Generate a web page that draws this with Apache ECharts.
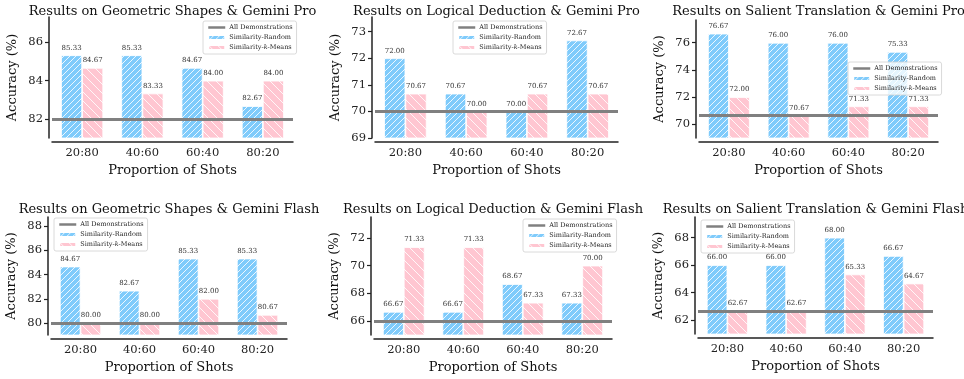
<!DOCTYPE html>
<html lang="en">
<head>
  <meta charset="UTF-8">
  <title>Similarity-based demonstration selection</title>
  <script src="https://cdn.jsdelivr.net/npm/echarts@6/dist/echarts.min.js"></script>
  <style>
    html, body { margin: 0; padding: 0; background: #fff; }
    #chart { width: 964px; height: 379px; }
  </style>
</head>
<body>
  <div id="chart"></div>
  <script>
    // data
    const shots = ['20:80', '40:60', '60:40', '80:20'];
    const titles = [
      'Results on Geometric Shapes & Gemini Pro',
      'Results on Logical Deduction & Gemini Pro',
      'Results on Salient Translation & Gemini Pro',
      'Results on Geometric Shapes & Gemini Flash',
      'Results on Logical Deduction & Gemini Flash',
      'Results on Salient Translation & Gemini Flash'
    ];
    const randomAcc = [
      [85.33, 85.33, 84.67, 82.67],
      [72.00, 70.67, 70.00, 72.67],
      [76.67, 76.00, 76.00, 75.33],
      [84.67, 82.67, 85.33, 85.33],
      [66.67, 66.67, 68.67, 67.33],
      [66.00, 66.00, 68.00, 66.67]
    ];
    const kmeansAcc = [
      [84.67, 83.33, 84.00, 84.00],
      [70.67, 70.00, 70.67, 70.67],
      [72.00, 70.67, 71.33, 71.33],
      [80.00, 80.00, 82.00, 80.67],
      [71.33, 71.33, 67.33, 70.00],
      [62.67, 62.67, 65.33, 64.67]
    ];
    const allDemos = [82.00, 70.00, 70.67, 80.00, 66.00, 62.67];
    const yMin = [81, 69, 69, 79, 65, 61];
    const yMax = [87.33, 73.55, 77.67, 88.77, 73.5, 69.5];
    const yTicks = [
      [82, 84, 86],
      [69, 70, 71, 72, 73],
      [70, 72, 74, 76],
      [80, 82, 84, 86, 88],
      [66, 68, 70, 72],
      [62, 64, 66, 68]
    ];

    // panel layout (plot areas in px)
    const grids = [
      { left: 52, top: 17, width: 241, height: 121 },
      { left: 375, top: 17, width: 243, height: 121 },
      { left: 699, top: 20, width: 239, height: 118 },
      { left: 51, top: 217, width: 236, height: 118 },
      { left: 374, top: 217, width: 238, height: 118 },
      { left: 698, top: 217, width: 235, height: 117 }
    ];
    const legendPos = [
      { left: 203, top: 21 },
      { left: 453, top: 21 },
      { left: 848, top: 62 },
      { left: 54, top: 218 },
      { left: 523, top: 219 },
      { left: 701, top: 220 }
    ];

    const SERIF = '"DejaVu Serif", serif';
    const BLUE = '#7fcbfb';
    const PINK = '#ffc6d1';

    function hatch(bg, step, forward) {
      const c = document.createElement('canvas');
      c.width = step; c.height = step;
      const g = c.getContext('2d');
      g.fillStyle = bg;
      g.fillRect(0, 0, step, step);
      g.strokeStyle = 'rgba(255,255,255,0.95)';
      g.lineWidth = 0.9;
      g.beginPath();
      if (forward) {
        g.moveTo(-1, step + 1); g.lineTo(step + 1, -1);
        g.moveTo(-1, 1); g.lineTo(1, -1);
        g.moveTo(step - 1, step + 1); g.lineTo(step + 1, step - 1);
      } else {
        g.moveTo(-1, -1); g.lineTo(step + 1, step + 1);
        g.moveTo(step - 1, -1); g.lineTo(step + 1, 1);
        g.moveTo(-1, step - 1); g.lineTo(1, step + 1);
      }
      g.stroke();
      return c;
    }
    const bluePattern = { image: hatch(BLUE, 6, true), repeat: 'repeat' };
    const pinkPattern = { image: hatch(PINK, 9, false), repeat: 'repeat' };

    const option = {
      animation: false,
      title: [], grid: [], xAxis: [], yAxis: [], legend: [], series: []
    };

    titles.forEach(function (t, i) {
      const gr = grids[i];
      option.title.push({
        text: t,
        left: gr.left + gr.width / 2,
        top: i < 3 ? 5 : 203,
        textAlign: 'center',
        padding: 0,
        textStyle: { fontFamily: SERIF, fontSize: 13, fontWeight: 'normal', color: '#111' }
      });
      option.grid.push(Object.assign({ containLabel: false }, gr));
      option.xAxis.push({
        type: 'category',
        gridIndex: i,
        data: shots,
        offset: 4,
        name: 'Proportion of Shots',
        nameLocation: 'middle',
        nameGap: 22,
        nameTextStyle: { fontFamily: SERIF, fontSize: 13, color: '#111' },
        axisLine: { lineStyle: { color: '#222', width: 1.5 } },
        axisTick: { show: false },
        axisLabel: { fontFamily: SERIF, fontSize: 11.5, color: '#222', margin: 5 },
        splitLine: { show: false }
      });
      option.yAxis.push({
        type: 'value',
        gridIndex: i,
        min: yMin[i],
        max: yMax[i],
        offset: 3,
        name: 'Accuracy (%)',
        nameLocation: 'middle',
        nameGap: 30,
        nameTextStyle: { fontFamily: SERIF, fontSize: 13, color: '#111' },
        axisLine: { show: true, lineStyle: { color: '#222', width: 1.5 } },
        axisTick: { show: true, length: 4, lineStyle: { color: '#222', width: 1.2 }, customValues: yTicks[i] },
        axisLabel: { fontFamily: SERIF, fontSize: 11.5, color: '#222', margin: 6, customValues: yTicks[i] },
        splitLine: { show: false }
      });
      option.legend.push({
        orient: 'vertical',
        left: legendPos[i].left,
        top: legendPos[i].top,
        data: [
          { name: 'All Demonstrations', itemStyle: { opacity: 0 }, lineStyle: { width: 2.5, color: '#808080' } },
          'Similarity-Random',
          'Similarity-k-Means'
        ],
        itemWidth: 17,
        itemHeight: 5,
        itemGap: 3,
        padding: [3, 4, 3, 4],
        backgroundColor: 'rgba(255,255,255,0.8)',
        borderColor: '#d0d0d0',
        borderWidth: 0.8,
        borderRadius: 2,
        selectedMode: false,
        formatter: function (name) {
          return name === 'Similarity-k-Means' ? 'Similarity-{i|k}-Means' : name;
        },
        textStyle: {
          fontFamily: SERIF, fontSize: 6.5, color: '#222', padding: [0, 0, 0, -1],
          rich: { i: { fontFamily: SERIF, fontSize: 6.5, fontStyle: 'italic', color: '#222' } }
        }
      });
      const labelCfg = {
        show: true,
        position: 'top',
        distance: 4,
        fontFamily: SERIF,
        fontSize: 7,
        color: '#333',
        formatter: function (p) { return p.value.toFixed(2); }
      };
      option.series.push({
        name: 'Similarity-Random',
        type: 'bar',
        xAxisIndex: i, yAxisIndex: i,
        data: randomAcc[i],
        barWidth: '35%',
        barGap: '0%',
        itemStyle: { color: bluePattern, borderColor: '#fff', borderWidth: 0.8 },
        label: labelCfg,
        z: 2
      });
      option.series.push({
        name: 'Similarity-k-Means',
        type: 'bar',
        xAxisIndex: i, yAxisIndex: i,
        data: kmeansAcc[i],
        barWidth: '35%',
        barGap: '0%',
        itemStyle: { color: pinkPattern, borderColor: '#fff', borderWidth: 0.8 },
        label: labelCfg,
        z: 2
      });
      option.series.push({
        name: 'All Demonstrations',
        type: 'line',
        xAxisIndex: i, yAxisIndex: i,
        data: [],
        symbol: 'none',
        itemStyle: { color: '#808080' },
        lineStyle: { color: '#808080', width: 3 },
        markLine: {
          silent: true,
          symbol: 'none',
          label: { show: false },
          lineStyle: { color: '#808080', width: 3, type: 'solid' },
          data: [{ yAxis: allDemos[i] }]
        },
        z: 4
      });
    });

    const chart = echarts.init(document.getElementById('chart'), null, { renderer: 'canvas' });
    chart.setOption(option);
  </script>
</body>
</html>
